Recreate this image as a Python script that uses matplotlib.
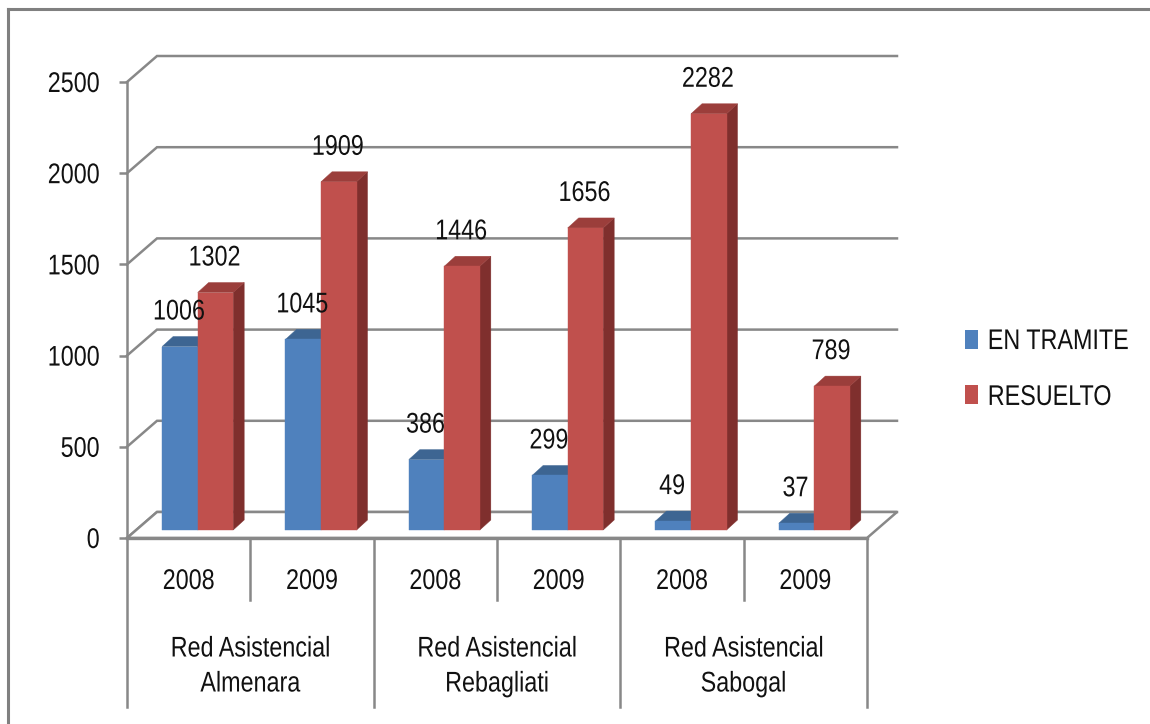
import matplotlib
matplotlib.use("Agg")
import matplotlib.pyplot as plt
from matplotlib.patches import Polygon, Patch
from matplotlib.lines import Line2D
from matplotlib import patheffects
from matplotlib.transforms import Affine2D

# datos
groups = ["Red Asistencial\nAlmenara", "Red Asistencial\nRebagliati", "Red Asistencial\nSabogal"]
years = ["2008", "2009", "2008", "2009", "2008", "2009"]
en_tramite = [1006, 1045, 386, 299, 49, 37]
resuelto = [1302, 1909, 1446, 1656, 2282, 789]
series_names = ["EN TRAMITE", "RESUELTO"]
y_ticks = [0, 500, 1000, 1500, 2000, 2500]

# colores (estilo Excel 2007)
BLUE = ("#4f81bd", "#3d6592", "#385d8a")     # frente, arriba, lado
RED = ("#c0504d", "#9b3e3b", "#7f2f2d")
GRID = "#888888"
TXT = "#111111"

plt.rcParams["font.family"] = ["Liberation Sans", "DejaVu Sans"]
FS = 20.5


class Condense(patheffects.AbstractPathEffect):
    """Estrecha el texto en horizontal (la fuente original es angosta)."""
    def __init__(self, factor=0.82, anchor="center"):
        super().__init__()
        self.factor = factor
        self.anchor = anchor

    def draw_path(self, renderer, gc, tpath, affine, rgbFace=None):
        ext = tpath.get_extents()
        if self.anchor == "left":
            cx = 0.0
        elif self.anchor == "right":
            cx = ext.x1
        else:
            cx = (ext.x0 + ext.x1) / 2
        t = Affine2D().translate(-cx, 0).scale(self.factor, 1).translate(cx, 0) + affine
        renderer.draw_path(gc, tpath, t, rgbFace)


NARROW = [Condense(0.82)]

W, H = 1150, 724
fig = plt.figure(figsize=(W / 100, H / 100), dpi=100)

# area del plano frontal en pixeles
X_L, X_R, Y_0, Y_TOP = 127, 867, 538, 82
ax = fig.add_axes([X_L / W, (H - Y_0) / H, (X_R - X_L) / W, (Y_0 - Y_TOP) / H])
n = len(years)
ax.set_xlim(0, n)
ax.set_ylim(0, 2500)
sx = (X_R - X_L) / n          # px por unidad x
sy = (Y_0 - Y_TOP) / 2500     # px por unidad y

# profundidad (px -> datos)
DX, DY = 30 / sx, 26 / sy      # pared completa
OX, OY = 9 / sx, 8 / sy        # cara frontal de las barras
BX, BY = 11 / sx, 10 / sy      # grosor de las barras
bw = 0.288

for s in ["top", "right", "bottom"]:
    ax.spines[s].set_visible(False)
ax.spines["left"].set_color(GRID)
ax.spines["left"].set_linewidth(1.8)
ax.set_xticks([])
ax.set_yticks(y_ticks)
ax.tick_params(axis="y", length=5.5, width=1.8, color=GRID, pad=14,
               labelsize=FS, labelcolor=TXT)
for lbl in ax.get_yticklabels():
    lbl.set_path_effects([Condense(0.82, "right")])

# pared de fondo y lineas de division
for v in y_ticks:
    ax.plot([0, DX, n + DX], [v, v + DY, v + DY], color=GRID, lw=1.8,
            clip_on=False, zorder=1, solid_joinstyle="miter")

# piso
floor = Polygon([(0, 0), (n, 0), (n + DX, DY), (DX, DY)], closed=True,
                facecolor="white", edgecolor=GRID, lw=1.8, zorder=1, clip_on=False)
ax.add_patch(floor)
ax.plot([0, n], [0, 0], color=GRID, lw=2.4, zorder=2, clip_on=False)


def draw_bar(x0, v, cols):
    x1 = x0 + bw
    y0, y1 = OY, v + OY
    front = [(x0, y0), (x1, y0), (x1, y1), (x0, y1)]
    top = [(x0, y1), (x1, y1), (x1 + BX, y1 + BY), (x0 + BX, y1 + BY)]
    side = [(x1, y0), (x1 + BX, y0 + BY), (x1 + BX, y1 + BY), (x1, y1)]
    for pts, c in [(side, cols[2]), (top, cols[1]), (front, cols[0])]:
        ax.add_patch(Polygon(pts, closed=True, facecolor=c, edgecolor=c,
                             lw=0.3, zorder=3, clip_on=False))
    ax.annotate(str(v), xy=(x0 + bw / 2, y1), xytext=(-1, 34),
                textcoords="offset pixels", ha="center", va="center",
                fontsize=FS, color=TXT, annotation_clip=False, zorder=5,
                path_effects=NARROW)


for i in range(n):
    c = i + 0.5 + OX
    draw_bar(c - bw, en_tramite[i], BLUE)
    draw_bar(c, resuelto[i], RED)

# eje de categorias (dos niveles)
xt = ax.get_xaxis_transform()
def fy(py):
    return (Y_0 - py) / (Y_0 - Y_TOP)

for i in range(n + 1):
    bottom = 707 if i % 2 == 0 else 600
    ax.add_line(Line2D([i, i], [0, fy(bottom)], transform=xt, color=GRID,
                       lw=1.8, clip_on=False))
for i, yr in enumerate(years):
    ax.text(i + 0.5, fy(582), yr, transform=xt, ha="center", va="center",
            fontsize=FS, color=TXT, path_effects=NARROW)
for g, name in enumerate(groups):
    ax.text(2 * g + 1, fy(667), name, transform=xt, ha="center", va="center",
            fontsize=FS, color=TXT, linespacing=1.45, path_effects=NARROW)

# leyenda
handles = [Patch(facecolor=BLUE[0]), Patch(facecolor=RED[0])]
leg = fig.legend(handles, series_names, loc="center left",
                 bbox_to_anchor=(965 / W, (H - 370) / H), frameon=False,
                 fontsize=FS, handlelength=0.45, handleheight=0.65,
                 handletextpad=0.35, labelspacing=1.05, borderpad=0,
                 borderaxespad=0, labelcolor=TXT)
for t in leg.get_texts():
    t.set_path_effects([Condense(0.82, "left")])

# marco exterior (solo arriba e izquierda)
fig.add_artist(Line2D([8 / W, 8 / W], [0, (H - 9) / H], color="#808080", lw=2.2))
fig.add_artist(Line2D([8 / W, 1], [(H - 9) / H, (H - 9) / H], color="#808080", lw=2.2))

fig.savefig("out.png", dpi=100)
